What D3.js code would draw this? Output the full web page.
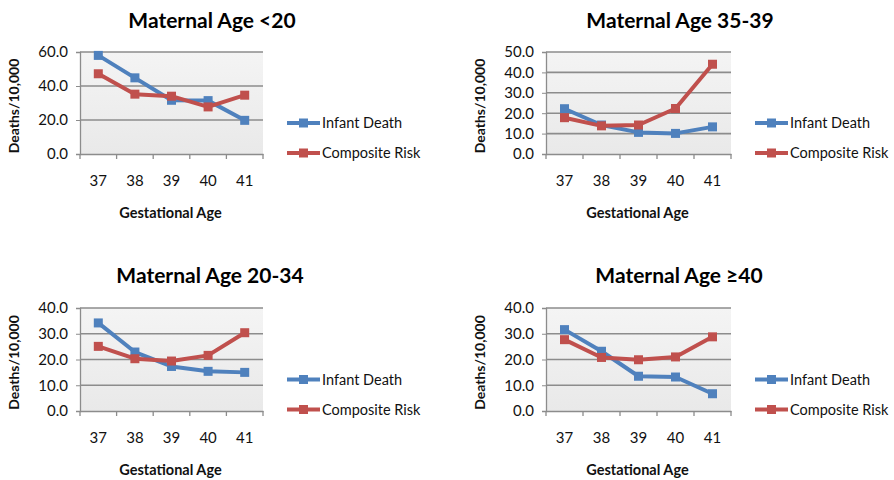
<!DOCTYPE html>
<html><head><meta charset="utf-8">
<script src="https://cdn.jsdelivr.net/npm/d3@7"></script>
<style>body{margin:0;background:#fff;}svg{display:block;font-family:Lato,"Open Sans",sans-serif;}</style>
</head><body><svg id="c" width="894" height="480"></svg>
<script>
const categories = ["37","38","39","40","41"];
const seriesNames = ["Infant Death","Composite Risk"];
const titles = ["Maternal Age <20","Maternal Age 35-39","Maternal Age 20-34","Maternal Age \u226540"];
const yMax = [60, 50, 40, 40];
const yStep = [20, 10, 10, 10];
const infantDeath = [
  [58.0, 44.8, 31.6, 31.4, 19.8],
  [22.2, 14.2, 10.6, 10.1, 13.3],
  [34.2, 22.9, 17.3, 15.4, 15.0],
  [31.6, 23.2, 13.5, 13.2, 6.7]
];
const compositeRisk = [
  [47.2, 35.2, 34.0, 27.7, 34.6],
  [17.8, 13.8, 14.2, 22.3, 44.0],
  [25.1, 20.3, 19.4, 21.6, 30.4],
  [27.7, 20.8, 19.9, 21.0, 28.8]
];
const colors = ["#4F81BD","#C0504D"];

const svg = d3.select("#c");
const defs = svg.append("defs");
const grad = defs.append("linearGradient").attr("id","bg").attr("x1",0).attr("y1",0).attr("x2",0).attr("y2",1);
grad.append("stop").attr("offset","0%").attr("stop-color","#f4f4f4");
grad.append("stop").attr("offset","100%").attr("stop-color","#e9e9e9");

const panels = [
  {x0:80, x1:263, y0:52, y1:154, tx:212, ty:28},
  {x0:546, x1:731, y0:52, y1:154, tx:680, ty:28},
  {x0:80, x1:263, y0:308, y1:411, tx:210, ty:283},
  {x0:546, x1:731, y0:308, y1:411, tx:679, ty:283}
];

panels.forEach((p, i) => {
  const g = svg.append("g");
  const x = d3.scaleBand().domain(categories).range([p.x0, p.x1]);
  const y = d3.scaleLinear().domain([0, yMax[i]]).range([p.y1, p.y0]);
  const ticks = d3.range(0, yMax[i] + 0.001, yStep[i]);

  g.append("rect").attr("x", p.x0).attr("y", p.y0).attr("width", p.x1 - p.x0).attr("height", p.y1 - p.y0)
    .attr("fill", "url(#bg)");

  // gridlines
  g.selectAll(".grid").data(ticks.filter(t => t > 0)).join("line")
    .attr("x1", p.x0).attr("x2", p.x1).attr("y1", d => y(d)).attr("y2", d => y(d))
    .attr("stroke", "#8c8c8c").attr("stroke-width", 1.6);

  // y axis
  const ya = g.append("g").attr("transform", `translate(${p.x0},0)`)
    .call(d3.axisLeft(y).tickValues(ticks).tickFormat(d3.format(".1f")).tickSize(4).tickPadding(8));
  ya.select(".domain").attr("stroke", "#8c8c8c").attr("stroke-width", 1.3);
  ya.selectAll(".tick line").attr("stroke", "#8c8c8c");
  ya.selectAll("text").attr("font-size", 15).attr("fill", "#111").style("font-family", "Lato");

  // x axis
  const xa = g.append("g").attr("transform", `translate(0,${p.y1})`)
    .call(d3.axisBottom(x).tickSize(0).tickPadding(21));
  xa.select(".domain").attr("stroke", "#8c8c8c").attr("stroke-width", 1.3);
  xa.selectAll("text").attr("font-size", 15).attr("fill", "#111").style("font-family", "Lato");
  // category boundary tick marks
  const bounds = categories.map(c => x(c)).concat([p.x1]);
  g.selectAll(".xt").data(bounds).join("line")
    .attr("x1", d => d).attr("x2", d => d).attr("y1", p.y1).attr("y2", p.y1 + 5)
    .attr("stroke", "#8c8c8c").attr("stroke-width", 1.3);

  // series
  [infantDeath[i], compositeRisk[i]].forEach((vals, s) => {
    const line = d3.line().x((d, k) => x(categories[k]) + x.bandwidth() / 2).y(d => y(d));
    g.append("path").datum(vals).attr("d", line).attr("fill", "none")
      .attr("stroke", colors[s]).attr("stroke-width", 4).attr("stroke-linejoin", "round");
    g.selectAll(".m" + s).data(vals).join("rect")
      .attr("x", (d, k) => x(categories[k]) + x.bandwidth() / 2 - 4.5)
      .attr("y", d => y(d) - 4.5).attr("width", 9).attr("height", 9)
      .attr("fill", colors[s]);
  });

  // title
  g.append("text").attr("x", p.tx).attr("y", p.ty).attr("text-anchor", "middle")
    .attr("font-size", 21).attr("font-weight", "bold").attr("fill", "#000").text(titles[i]);
  // axis titles
  g.append("text").attr("x", (p.x0 + p.x1) / 2 - 1).attr("y", p.y1 + 64).attr("text-anchor", "middle")
    .attr("font-size", 14.5).attr("font-weight", "bold").attr("fill", "#111").text("Gestational Age");
  g.append("text").attr("transform", `translate(${p.x0 - 61},${(p.y0 + p.y1) / 2 + 3}) rotate(-90)`)
    .attr("text-anchor", "middle").attr("font-size", 14).attr("font-weight", "bold").attr("fill", "#111")
    .text("Deaths/10,000");

  // legend
  const lx = p.x1 + 24, ly = (p.y0 + p.y1) / 2 + 20;
  seriesNames.forEach((n, s) => {
    const yy = ly + s * 30;
    g.append("line").attr("x1", lx).attr("x2", lx + 33).attr("y1", yy).attr("y2", yy)
      .attr("stroke", colors[s]).attr("stroke-width", 4);
    g.append("rect").attr("x", lx + 16.5 - 4.5).attr("y", yy - 4.5).attr("width", 9).attr("height", 9).attr("fill", colors[s]);
    g.append("text").attr("x", lx + 35).attr("y", yy + 5).attr("font-size", 14.5).attr("fill", "#111").text(n);
  });
});
</script></body></html>
